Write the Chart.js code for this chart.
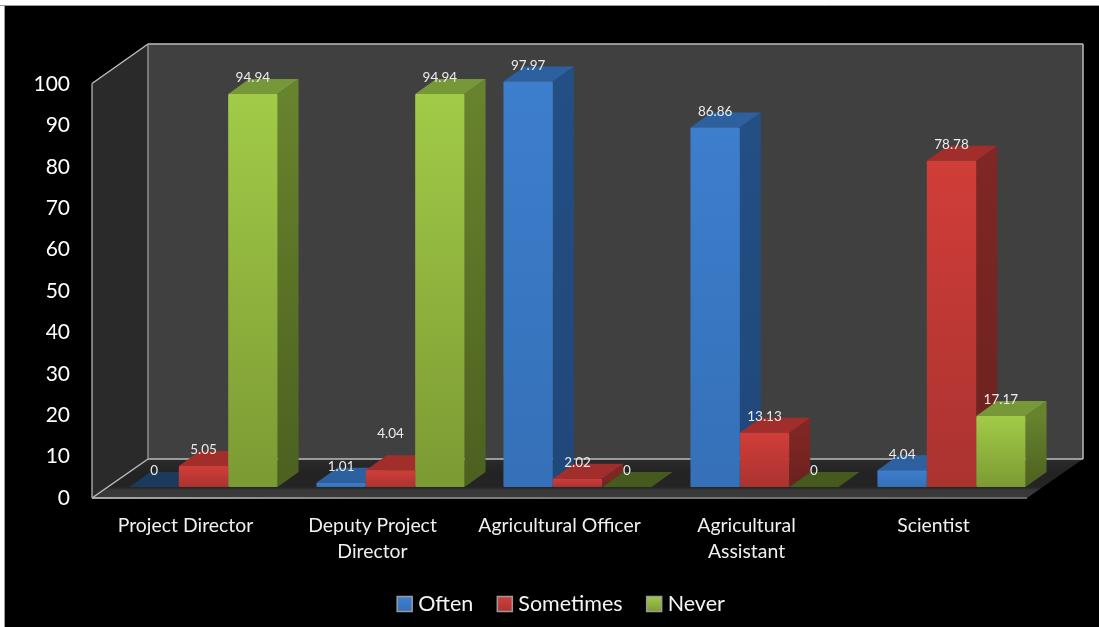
<!DOCTYPE html>
<html>
<head>
<meta charset="utf-8">
<style>
html, body { margin: 0; background: #fff; overflow: hidden; }
canvas { display: block; }
</style>
<script src="https://cdn.jsdelivr.net/npm/chart.js@4"></script>
</head>
<body>
<canvas id="barChart" width="1099" height="627"></canvas>
<script>
const categories = ['Project Director', ['Deputy Project', 'Director'], 'Agricultural Officer', ['Agricultural', 'Assistant'], 'Scientist'];
const seriesNames = ['Often', 'Sometimes', 'Never'];
const often = [0, 1.01, 97.97, 86.86, 4.04];
const sometimes = [5.05, 4.04, 2.02, 13.13, 78.78];
const never = [94.94, 94.94, 0, 0, 17.17];
const yTicks = [0, 10, 20, 30, 40, 50, 60, 70, 80, 90, 100];

const FONT = 'Lato';
const BAR_DX = 21, BAR_DY = -15;

const palette = [
    { front: '#3d7ecd', low: '#3570b8', side: '#234f84', sideLow: '#20477a', top: '#2c609f', zero: '#1c3a5e', box: '#3f7fcf' },
    { front: '#d13d39', low: '#aa3330', side: '#7f2724', sideLow: '#6b211f', top: '#a22e2b', zero: '#7a2523', box: '#d03f3b' },
    { front: '#a2cb48', low: '#7c9a33', side: '#68832d', sideLow: '#4c6020', top: '#779839', zero: '#465a1d', box: '#a0c848' }
];

function frontFill(ctx) {
    const chart = ctx.chart;
    const c = palette[ctx.datasetIndex];
    const y = chart.scales.y;
    if (ctx.dataIndex === undefined || !y) return c.front;
    const y0 = y.getPixelForValue(ctx.raw), y1 = y.getPixelForValue(0);
    if (!Number.isFinite(y0) || !Number.isFinite(y1)) return c.front;
    const g = chart.ctx.createLinearGradient(0, y0, 0, y1);
    g.addColorStop(0, c.front);
    g.addColorStop(1, c.low);
    return g;
}

function poly(c, pts, fill) {
    c.beginPath();
    pts.forEach((p, i) => i ? c.lineTo(p[0], p[1]) : c.moveTo(p[0], p[1]));
    c.closePath();
    c.fillStyle = fill;
    c.fill();
}

function line(c, x1, y1, x2, y2, col, w) {
    c.beginPath();
    c.moveTo(x1, y1);
    c.lineTo(x2, y2);
    c.strokeStyle = col;
    c.lineWidth = w;
    c.stroke();
}

// black picture area, walls and floor of the 3d box
const stage = {
    id: 'stage',
    beforeDraw(chart) {
        const c = chart.ctx, a = chart.chartArea, y = chart.scales.y;
        c.save();
        c.fillStyle = '#000';
        c.fillRect(5, 6, 1094, 621);
        line(c, 0, 5.5, 1099, 5.5, '#9a9a9a', 1);
        line(c, 4.5, 5, 4.5, 627, '#9a9a9a', 1);

        const top = y.getPixelForValue(100), zero = y.getPixelForValue(0);
        const fx = a.left - 18, bx = a.left + 38, fr = a.right - 18, br = a.right + 38;
        const fTop = top + 10.5, fBot = zero + 11, bTop = top - 29, bBot = zero - 28;

        poly(c, [[bx, bTop], [br, bTop], [br, bBot], [bx, bBot]], '#404040');
        poly(c, [[fx, fTop], [bx, bTop], [bx, bBot], [fx, fBot]], '#2a2a2a');
        const fl = c.createLinearGradient(0, bBot, 0, fBot);
        fl.addColorStop(0, '#2b2b2b');
        fl.addColorStop(0.35, '#232323');
        fl.addColorStop(0.72, '#242424');
        fl.addColorStop(0.8, '#383838');
        fl.addColorStop(1, '#3a3a3a');
        poly(c, [[fx, fBot], [bx, bBot], [br, bBot], [fr, fBot]], fl);

        const edge = '#bdbdbd';
        line(c, bx, bTop, br, bTop, edge, 1.5);
        line(c, br, bTop, br, bBot, edge, 1.5);
        line(c, bx, bBot, br, bBot, edge, 1.5);
        line(c, bx, bTop, bx, bBot, '#8f8f8f', 1.5);
        line(c, fx, fTop, bx, bTop, edge, 1.5);
        line(c, fx, fBot, bx, bBot, edge, 1.5);
        line(c, fx, fTop, fx, fBot, '#a0a0a0', 1.5);
        const fe = c.createLinearGradient(fx, 0, fr, 0);
        fe.addColorStop(0, '#a8a8a8');
        fe.addColorStop(0.3, '#808080');
        fe.addColorStop(1, '#666');
        line(c, fx, fBot, fr, fBot, fe, 2);
        c.restore();
    }
};

// tops and sides of the bars go under the fronts that the library draws
const extrude = {
    id: 'extrude',
    beforeDatasetsDraw(chart) {
        const c = chart.ctx;
        c.save();
        categories.forEach((_, j) => {
            chart.data.datasets.forEach((ds, i) => {
                const el = chart.getDatasetMeta(i).data[j];
                const col = palette[i];
                const l = el.x - el.width / 2, r = el.x + el.width / 2;
                const t = el.y, b = el.base;
                if (b - t > 0.5) {
                    const g = c.createLinearGradient(0, t, 0, b);
                    g.addColorStop(0, col.side);
                    g.addColorStop(1, col.sideLow);
                    poly(c, [[r, t], [r + BAR_DX, t + BAR_DY], [r + BAR_DX, b + BAR_DY], [r, b]], g);
                }
                const face = ds.data[j] === 0 ? col.zero : col.top;
                poly(c, [[l, t], [l + BAR_DX, t + BAR_DY], [r + BAR_DX, t + BAR_DY], [r, t]], face);
            });
        });
        c.restore();
    },
    afterDatasetsDraw(chart) {
        const c = chart.ctx;
        c.save();
        c.font = '13.5px ' + FONT;
        c.fillStyle = '#ececec';
        c.textAlign = 'center';
        c.textBaseline = 'middle';
        chart.data.datasets.forEach((ds, i) => {
            chart.getDatasetMeta(i).data.forEach((el, j) => {
                // the Deputy Project Director label for Sometimes sits higher in the original
                const lift = (i === 1 && j === 1) ? 37 : 16;
                c.fillText(String(ds.data[j]), el.x, el.y - lift);
            });
        });
        c.restore();
    }
};

// the built in legend keeps too wide a gap between box and text, so draw it here
const bevelLegend = {
    id: 'bevelLegend',
    afterDraw(chart) {
        const c = chart.ctx;
        const box = 15, gap = 6, between = 24, mid = 604;
        c.save();
        c.font = '21.5px ' + FONT;
        c.textBaseline = 'middle';
        c.textAlign = 'left';
        const widths = seriesNames.map(n => c.measureText(n).width);
        const total = widths.reduce((s, w) => s + w + box + gap, 0) + between * 2;
        let x = 561 - total / 2;
        seriesNames.forEach((name, i) => {
            const g = c.createLinearGradient(0, mid - 7, 0, mid + 8);
            g.addColorStop(0, palette[i].box);
            g.addColorStop(1, palette[i].low);
            c.fillStyle = g;
            c.fillRect(x, mid - 7.5, box, box);
            c.strokeStyle = '#9a9a9a';
            c.lineWidth = 1.5;
            c.strokeRect(x, mid - 7.5, box, box);
            c.fillStyle = '#f4f4f4';
            c.fillText(name, x + box + gap, mid);
            x += box + gap + widths[i] + between;
        });
        c.restore();
    }
};

const data = {
    labels: categories,
    datasets: [often, sometimes, never].map((vals, i) => ({
        label: seriesNames[i],
        data: vals,
        backgroundColor: frontFill,
        borderWidth: 0,
        borderRadius: 1,
        borderSkipped: false,
        barPercentage: 1,
        categoryPercentage: 0.792
    }))
};

new Chart(document.getElementById('barChart'), {
    type: 'bar',
    data: data,
    plugins: [stage, extrude, bevelLegend],
    options: {
        responsive: false,
        animation: false,
        layout: { padding: { left: 20, right: 54, top: 73, bottom: 53 } },
        plugins: {
            tooltip: { enabled: false },
            legend: { display: false }
        },
        scales: {
            x: {
                grid: { display: false },
                border: { display: false },
                afterFit: s => { s.height = 87; },
                ticks: {
                    color: '#f0f0f0',
                    autoSkip: false,
                    maxRotation: 0,
                    padding: 18,
                    labelOffset: -18,
                    font: { family: FONT, size: 19.4, lineHeight: 1.34 }
                }
            },
            y: {
                min: 0,
                max: 100,
                grid: { display: false, drawTicks: false },
                border: { display: false },
                afterFit: s => { s.width = 90; },
                afterBuildTicks: s => { s.ticks = yTicks.map(v => ({ value: v })); },
                ticks: {
                    color: '#fff',
                    padding: 40,
                    labelOffset: 11,
                    font: { family: FONT, size: 21 }
                }
            }
        }
    }
});
</script>
</body>
</html>
